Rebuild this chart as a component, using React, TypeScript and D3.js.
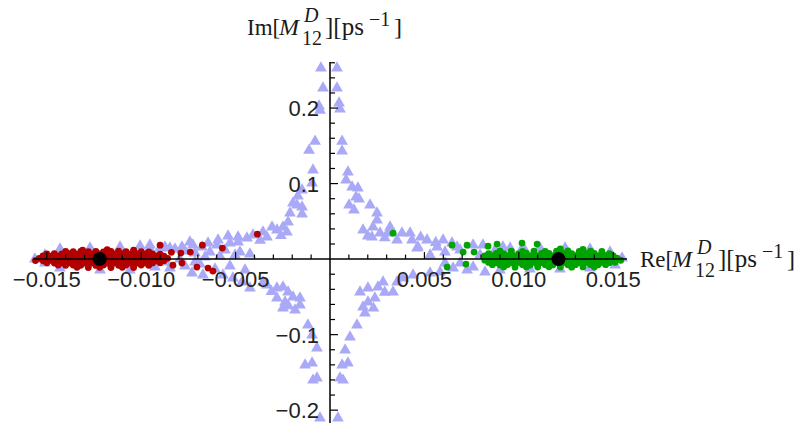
import React from "react";
import * as d3 from "d3";

// ---------- data (Re, Im) in ps^-1 ----------
const bluePoints: [number, number][] = [
  // upper spike, left of axis
  [-0.00048, 0.253], [-0.00037, 0.2265], [-0.00058, 0.2026], [-0.00053, 0.197], [-0.00079, 0.156],
  [-0.00111, 0.144], [-0.0009, 0.118], [-0.00095, 0.1007], [-0.00148, 0.0914], [-0.0017, 0.0834],
  [-0.00196, 0.0742], [-0.00212, 0.061], [-0.00148, 0.0689], [-0.00148, 0.0596], [-0.00175, 0.0715],
  // upper spike, right of axis
  [0.00037, 0.253], [0.00037, 0.2265], [0.00048, 0.2066], [0.00053, 0.1987], [0.00064, 0.156],
  [0.00064, 0.143], [0.00095, 0.1152], [0.00085, 0.1046], [0.00117, 0.0954], [0.00148, 0.094],
  [0.00138, 0.0821], [0.00101, 0.0715], [0.00127, 0.0649], [0.00154, 0.0795], [0.00212, 0.0715],
  [0.00249, 0.0609], [0.00249, 0.0517], [0.00228, 0.0424], [0.00222, 0.0291], [0.00265, 0.0344],
  [0.00307, 0.0344], [0.00318, 0.0424], [0.00355, 0.0252], [0.00381, 0.0344], [0.00424, 0.0344],
  [0.00434, 0.0252], [0.00466, 0.0159], [0.00514, 0.0252], [0.00567, 0.0159], [0.00599, 0.0252],
  [0.00646, 0.0212], [0.00673, 0.0159], [0.00758, 0.0185], [0.0081, 0.0185], [0.00916, 0.0159],
  [0.01022, 0.0159], [0.00175, 0.0384], [0.002, 0.0305], [0.00461, 0.0146], [0.0029, 0.028],
  [0.0048, 0.029], [0.0056, 0.022],
  // upper-left branch
  [-0.00249, 0.0424], [-0.00281, 0.0384], [-0.00307, 0.0424], [-0.00355, 0.0358], [-0.00408, 0.0318],
  [-0.0044, 0.0278], [-0.00487, 0.0291], [-0.00487, 0.0225], [-0.0053, 0.0212], [-0.00593, 0.0252],
  [-0.00599, 0.0185], [-0.00646, 0.0212], [-0.00678, 0.0159], [-0.00726, 0.0185], [-0.00742, 0.0225],
  [-0.00784, 0.0159], [-0.00848, 0.0146], [-0.009, 0.0146], [-0.00954, 0.0132], [-0.00334, 0.0291],
  [-0.00228, 0.0358], [-0.00222, 0.049], [-0.0037, 0.025], [-0.0026, 0.031], [-0.0054, 0.0305],
  // lower-left branch
  [-0.00731, -0.0185], [-0.00673, -0.0212], [-0.00567, -0.0212], [-0.00514, -0.0252], [-0.00466, -0.0305],
  [-0.00424, -0.0384], [-0.00334, -0.0344], [-0.00281, -0.0384], [-0.00249, -0.0371], [-0.00222, -0.0437],
  [-0.00281, -0.0517], [-0.00238, -0.057], [-0.00196, -0.0503], [-0.00159, -0.0517], [-0.00249, -0.0649],
  [-0.00185, -0.0675], [-0.00159, -0.0609], [-0.00117, -0.0874], [-0.00095, -0.1007], [-0.00069, -0.1179],
  [-0.00132, -0.1404], [-0.00095, -0.1377], [-0.0009, -0.1603], [-0.00069, -0.1576], [-0.00053, -0.2106],
  [-0.00355, -0.0305], [-0.0031, -0.043], [-0.0022, -0.062],
  // lower-right branch
  [0.00042, -0.2106], [0.00069, -0.1603], [0.00053, -0.1576], [0.00064, -0.1404], [0.00095, -0.1377],
  [0.0008, -0.1205], [0.00106, -0.1033], [0.00143, -0.0874], [0.00185, -0.0715], [0.00175, -0.0636],
  [0.00201, -0.057], [0.00238, -0.0517], [0.00159, -0.0437], [0.00201, -0.0384], [0.00254, -0.0371],
  [0.00281, -0.0305], [0.00334, -0.0437], [0.00355, -0.0305], [0.00387, -0.0252], [0.0044, -0.0212],
  [0.0053, -0.0185], [0.00583, -0.0172], [0.00652, -0.0119], [0.00726, -0.0146], [0.00758, -0.0106],
  [0.0029, -0.044], [0.0023, -0.065],
  // near the real axis, left
  [-0.01563, 0], [-0.0151, 0.0053], [-0.0151, -0.0053], [-0.00954, 0.0185], [-0.00874, 0.0159],
  [-0.00821, 0.0132], [-0.00768, 0.0106], [-0.00715, 0.008], [-0.00636, 0.0093], [-0.00556, 0.0119],
  [-0.00477, 0.0093], [-0.00927, -0.0106], [-0.00848, -0.0119], [-0.00768, -0.0093], [-0.00689, -0.0066],
  [-0.00609, -0.0132], [-0.00795, 0], [-0.00715, -0.004], [-0.00874, -0.004], [-0.00662, 0.0026],
  [-0.00583, 0.004], [-0.00503, 0.0053], [-0.00424, 0.0066], [-0.0053, -0.0093], [-0.0045, -0.0146],
  [-0.0143, 0.0132], [-0.01271, 0.0146], [-0.01112, 0.0159], [-0.01006, 0.0172], [-0.0143, -0.0119],
  [-0.01218, -0.0146], [-0.0106, -0.0146],
  // near the real axis, right
  [0.0053, 0.0053], [0.00609, 0.0093], [0.00689, 0.0119], [0.00795, 0.0053], [0.00874, 0.0119],
  [0.00954, 0.0146], [0.01112, 0.0146], [0.01245, 0.0146], [0.01377, 0.0132], [0.01483, 0.0093],
  [0.01547, 0.0013], [0.0151, -0.008], [0.01377, -0.0119], [0.01218, -0.0132], [0.01059, -0.0132],
  [0.009, -0.0146], [0.00821, -0.0172], [0.00689, -0.0053], [0.00609, -0.0053],
];

const redPoints: [number, number][] = [
  // dense cluster around the left best fit
  [-0.014, 0.0101], [-0.0136, 0.0098], [-0.0132, 0.0102], [-0.0128, 0.0099], [-0.0124, 0.0103], [-0.012, 0.0097],
  [-0.0116, 0.0101], [-0.0112, 0.0104], [-0.0108, 0.0098], [-0.0104, 0.0102], [-0.01, 0.0099], [-0.0096, 0.0096],
  [-0.015, 0.0068], [-0.0146, 0.0072], [-0.0142, 0.0069], [-0.0138, 0.0071], [-0.0134, 0.0067], [-0.013, 0.0073],
  [-0.0126, 0.007], [-0.0122, 0.0068], [-0.0118, 0.0072], [-0.0114, 0.0069], [-0.011, 0.0071], [-0.0106, 0.0067],
  [-0.0102, 0.0072], [-0.0098, 0.0069], [-0.0094, 0.007], [-0.009, 0.0066],
  [-0.0152, 0.0041], [-0.0148, 0.0038], [-0.0144, 0.0042], [-0.014, 0.0039], [-0.0136, 0.0041], [-0.0132, 0.0037],
  [-0.0128, 0.0043], [-0.0124, 0.004], [-0.012, 0.0038], [-0.0116, 0.0042], [-0.0112, 0.0039], [-0.0108, 0.0041],
  [-0.0104, 0.0037], [-0.01, 0.0042], [-0.0096, 0.0039], [-0.0092, 0.0041], [-0.0088, 0.0038],
  [-0.0154, 0.0011], [-0.015, 0.0008], [-0.0146, 0.0012], [-0.0142, 0.0009], [-0.0138, 0.0011], [-0.0134, 0.0007],
  [-0.013, 0.0012], [-0.0126, 0.001], [-0.0122, 0.0008], [-0.0118, 0.0012], [-0.0114, 0.0009], [-0.011, 0.0011],
  [-0.0106, 0.0008], [-0.0102, 0.0012], [-0.0098, 0.0009], [-0.0094, 0.0011], [-0.009, 0.0008], [-0.0086, 0.001],
  [-0.0156, -0.0019], [-0.0152, -0.0022], [-0.0148, -0.0018], [-0.0144, -0.0021], [-0.014, -0.0019], [-0.0136, -0.0023],
  [-0.0132, -0.0018], [-0.0128, -0.002], [-0.0124, -0.0022], [-0.012, -0.0018], [-0.0116, -0.0021], [-0.0112, -0.0019],
  [-0.0108, -0.0022], [-0.0104, -0.0018], [-0.01, -0.0021], [-0.0096, -0.0019], [-0.0092, -0.0022], [-0.0088, -0.002],
  [-0.015, -0.0049], [-0.0146, -0.0052], [-0.0142, -0.0048], [-0.0138, -0.0051], [-0.0134, -0.0049], [-0.013, -0.0053],
  [-0.0126, -0.0048], [-0.0122, -0.005], [-0.0118, -0.0052], [-0.0114, -0.0048], [-0.011, -0.0051], [-0.0106, -0.0049],
  [-0.0102, -0.0052], [-0.0098, -0.0048], [-0.0094, -0.0051], [-0.009, -0.0049],
  [-0.0144, -0.0079], [-0.014, -0.0082], [-0.0136, -0.0078], [-0.0132, -0.0081], [-0.0128, -0.0079], [-0.0124, -0.0083],
  [-0.012, -0.0078], [-0.0116, -0.008], [-0.0112, -0.0082], [-0.0108, -0.0078], [-0.0104, -0.0081], [-0.01, -0.0079],
  [-0.0096, -0.0082],
  [-0.0134, -0.0109], [-0.0128, -0.0112], [-0.0122, -0.0108], [-0.0116, -0.0111], [-0.011, -0.0109], [-0.0104, -0.0112],
  [-0.0118, 0.0125], [-0.0104, 0.012], [-0.0131, 0.0118],
  // scattered
  [-0.00385, 0.033], [-0.0057, 0.0146], [-0.00676, 0.0185], [-0.0074, 0.0093], [-0.009, 0.0185],
  [-0.0079, 0.008], [-0.0084, 0.009], [-0.00784, -0.0053], [-0.00832, -0.008], [-0.00705, -0.0106],
  [-0.00646, -0.0119], [-0.0062, -0.0159],
];

const greenPoints: [number, number][] = [
  // dense cluster around the right best fit
  [0.009, 0.0104], [0.0096, 0.0107], [0.0102, 0.0103], [0.0108, 0.0106], [0.0114, 0.0102], [0.012, 0.0105],
  [0.0126, 0.0108], [0.0132, 0.0103], [0.0138, 0.0106], [0.0144, 0.0102],
  [0.0084, 0.0074], [0.0088, 0.0077], [0.0092, 0.0073], [0.0096, 0.0076], [0.01, 0.0074], [0.0104, 0.0078],
  [0.0108, 0.0073], [0.0112, 0.0075], [0.0116, 0.0077], [0.012, 0.0073], [0.0124, 0.0076], [0.0128, 0.0074],
  [0.0132, 0.0077], [0.0136, 0.0073], [0.014, 0.0076], [0.0144, 0.0074], [0.0148, 0.0072],
  [0.0082, 0.0044], [0.0086, 0.0047], [0.009, 0.0043], [0.0094, 0.0046], [0.0098, 0.0044], [0.0102, 0.0048],
  [0.0106, 0.0043], [0.011, 0.0045], [0.0114, 0.0047], [0.0118, 0.0043], [0.0122, 0.0046], [0.0126, 0.0044],
  [0.013, 0.0047], [0.0134, 0.0043], [0.0138, 0.0046], [0.0142, 0.0044], [0.0146, 0.0047], [0.015, 0.0043],
  [0.0084, 0.0014], [0.0088, 0.0017], [0.0092, 0.0013], [0.0096, 0.0016], [0.01, 0.0014], [0.0104, 0.0018],
  [0.0108, 0.0013], [0.0112, 0.0015], [0.0116, 0.0017], [0.012, 0.0013], [0.0124, 0.0016], [0.0128, 0.0014],
  [0.0132, 0.0017], [0.0136, 0.0013], [0.014, 0.0016], [0.0144, 0.0014], [0.0148, 0.0017], [0.0152, 0.0013],
  [0.0082, -0.0014], [0.0086, -0.0017], [0.009, -0.0013], [0.0094, -0.0016], [0.0098, -0.0014], [0.0102, -0.0018],
  [0.0106, -0.0013], [0.011, -0.0015], [0.0114, -0.0017], [0.0118, -0.0013], [0.0122, -0.0016], [0.0126, -0.0014],
  [0.013, -0.0017], [0.0134, -0.0013], [0.0138, -0.0016], [0.0142, -0.0014], [0.0146, -0.0017], [0.015, -0.0013],
  [0.0154, -0.0015],
  [0.0084, -0.0044], [0.0088, -0.0047], [0.0092, -0.0043], [0.0096, -0.0046], [0.01, -0.0044], [0.0104, -0.0048],
  [0.0108, -0.0043], [0.0112, -0.0045], [0.0116, -0.0047], [0.012, -0.0043], [0.0124, -0.0046], [0.0128, -0.0044],
  [0.0132, -0.0047], [0.0136, -0.0043], [0.014, -0.0046], [0.0144, -0.0044], [0.0148, -0.0047], [0.0151, -0.0043],
  [0.0086, -0.0074], [0.009, -0.0077], [0.0094, -0.0073], [0.0098, -0.0076], [0.0102, -0.0074], [0.0106, -0.0078],
  [0.011, -0.0073], [0.0114, -0.0075], [0.0118, -0.0077], [0.0122, -0.0073], [0.0126, -0.0076], [0.013, -0.0074],
  [0.0134, -0.0077], [0.0138, -0.0073], [0.0142, -0.0076], [0.0146, -0.0074],
  [0.0092, -0.0104], [0.0098, -0.0107], [0.0104, -0.0103], [0.011, -0.0106], [0.0116, -0.0102], [0.0122, -0.0105],
  [0.0128, -0.0107], [0.0134, -0.0103], [0.014, -0.0105],
  // scattered
  [0.00334, 0.0344], [0.00646, 0.0185], [0.00726, 0.0185], [0.00705, 0.0093], [0.00763, 0.0093],
  [0.0062, -0.0106], [0.0072, -0.0066], [0.00837, 0.0172], [0.00885, 0.0199], [0.01017, 0.0212],
  [0.01097, 0.0199], [0.0122, 0.0135], [0.0134, 0.0128],
];

const bestFitPoints: [number, number][] = [
  [-0.0122, 0],
  [0.0121, 0],
];

const xMajorTicks = [-0.015, -0.01, -0.005, 0.005, 0.01, 0.015];
const xTickLabels = ["\u22120.015", "\u22120.010", "\u22120.005", "0.005", "0.010", "0.015"];
const yMajorTicks = [-0.2, -0.1, 0.1, 0.2];
const yTickLabels = ["\u22120.2", "\u22120.1", "0.1", "0.2"];

const xDomain: [number, number] = [-0.01573, 0.01573];
const yDomain: [number, number] = [-0.217, 0.261];

const W = 806;
const H = 423;

function MathLabel({ x, y, head }: { x: number; y: number; head: string }) {
  return (
    <g fontFamily="Liberation Serif" fill="#1a1a1a">
      <text x={x} y={y} fontSize={23}>{head + "["}</text>
      <text x={x + 32} y={y} fontSize={24} fontStyle="italic">M</text>
      <text x={x + 57} y={y - 13} fontSize={20} fontStyle="italic">D</text>
      <text x={x + 55} y={y + 10} fontSize={20}>12</text>
      <text x={x + 78} y={y} fontSize={25}>][ps</text>
      <text x={x + 122} y={y - 9} fontSize={20}>{"\u22121"}</text>
      <text x={x + 147} y={y} fontSize={24}>]</text>
    </g>
  );
}

export default function App() {
  const x = d3.scaleLinear().domain(xDomain).range([33, 627]);
  const y = d3.scaleLinear().domain(yDomain).range([H, 62]);
  const x0 = x(0);
  const y0 = y(0);

  const tri = d3.symbol().type(d3.symbolTriangle).size(60)() as string;

  const xMinor = d3.range(-15, 16).map((k) => k / 1000).filter((v) => Math.abs(v) > 1e-9);
  const yMinor = d3.range(-11, 14).map((k) => k / 50).filter((v) => Math.abs(v) > 1e-9);
  const isMajor = (v: number, arr: number[]) => arr.some((m) => Math.abs(m - v) < 1e-9);

  return (
    <svg
      width={W}
      height={H}
      style={{ position: "absolute", left: 0, top: 0, background: "#fff" }}
    >
      <rect x={0} y={0} width={W} height={H} fill="#fff" />
      <g>
        {bluePoints.map(([re, im], i) => (
          <path key={"b" + i} d={tri} transform={`translate(${x(re)},${y(im)})`} fill="#a9a9f7" />
        ))}
      </g>
      <g>
        {redPoints.map(([re, im], i) => (
          <circle key={"r" + i} cx={x(re)} cy={y(im)} r={3.4} fill="#b20000" />
        ))}
      </g>
      <g>
        {greenPoints.map(([re, im], i) => (
          <circle key={"g" + i} cx={x(re)} cy={y(im)} r={3.4} fill="#00a400" />
        ))}
      </g>
      {/* axes */}
      <g stroke="#000" strokeWidth={1.5}>
        <line x1={33} x2={627} y1={y0} y2={y0} />
        <line x1={x0} x2={x0} y1={62} y2={H} />
        {xMinor.map((v, i) => {
          const len = isMajor(v, xMajorTicks) ? 7 : 4.5;
          return <line key={"xt" + i} x1={x(v)} x2={x(v)} y1={y0} y2={y0 - len} strokeWidth={1.2} />;
        })}
        {yMinor.map((v, i) => {
          const len = isMajor(v, yMajorTicks) ? 8 : 5;
          return <line key={"yt" + i} x1={x0} x2={x0 + len} y1={y(v)} y2={y(v)} strokeWidth={1.2} />;
        })}
      </g>
      <g>
        {bestFitPoints.map(([re, im], i) => (
          <circle key={"k" + i} cx={x(re)} cy={y(im)} r={7} fill="#000" />
        ))}
      </g>
      {/* tick labels */}
      <g fontFamily="Liberation Sans" fontSize={22} fill="#222">
        {xMajorTicks.map((v, i) => (
          <text key={"xl" + i} x={x(v)} y={y0 + 28} textAnchor="middle">
            {xTickLabels[i]}
          </text>
        ))}
        {yMajorTicks.map((v, i) => (
          <text key={"yl" + i} x={x0 - 11} y={y(v) + 8} textAnchor="end">
            {yTickLabels[i]}
          </text>
        ))}
      </g>
      <MathLabel x={247} y={35} head="Im" />
      <MathLabel x={640} y={267} head="Re" />
    </svg>
  );
}
